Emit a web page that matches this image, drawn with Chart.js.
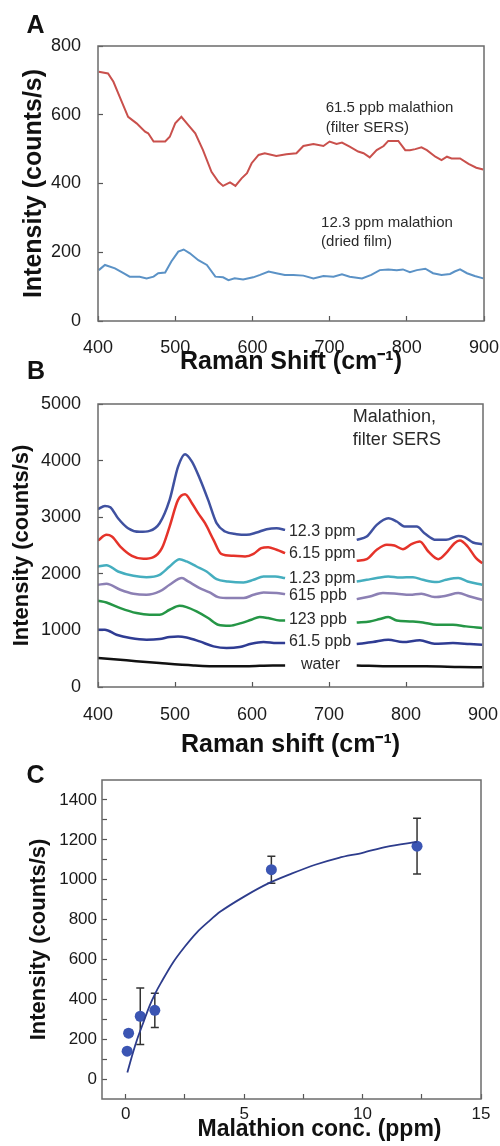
<!DOCTYPE html>
<html><head><meta charset="utf-8">
<script src="https://cdn.jsdelivr.net/npm/chart.js@4.4.1/dist/chart.umd.min.js"></script>
<style>
html,body{margin:0;padding:0;background:#fff;width:500px;height:1146px;overflow:hidden;position:relative}
canvas{position:absolute;left:0}
</style></head><body>
<canvas id="cA" width="500" height="376" style="top:0px"></canvas>
<canvas id="cB" width="500" height="400" style="top:360px"></canvas>
<canvas id="cC" width="500" height="391" style="top:755px"></canvas>
<script>
// ---------- Panel A data ----------
const aRedX = [401,413,420,428,439,450,461,465,472,487,493,500,508,517,526,536,547,556,562,571,578,586,593,599,608,616,631,644,657,666,679,692,700,709,716,726,737,744,752,761,770,776,789,798,804,811,819,826,837,845,852,858,869,880,890,899];
const aRedY = [725,720,696,653,594,575,551,546,522,522,536,575,594,570,546,497,434,405,393,403,393,415,430,459,483,488,480,485,488,509,515,509,522,515,519,507,493,488,476,497,509,524,524,497,497,500,505,497,478,468,478,473,473,457,446,441];
const aBlueX = [401,409,422,433,441,454,463,472,478,487,495,504,511,519,530,541,552,562,569,577,588,601,610,621,631,642,653,666,679,692,705,716,726,742,754,765,776,787,795,804,813,824,834,845,856,862,869,878,888,899];
const aBlueY = [148,163,153,139,129,129,124,129,139,141,173,202,208,197,177,163,129,127,119,124,121,127,134,144,139,134,134,132,124,131,129,136,129,124,134,148,150,148,150,142,148,152,139,134,137,144,150,139,131,124];
const aTicksX = [400,500,600,700,800,900];
const aTicksY = [0,200,400,600,800];

// ---------- Panel B data (null = gap behind the label) ----------
const b12X = [400,409,416,426,439,454,467,480,493,504,513,522,532,543,554,565,580,593,606,619,632,643,690,736,749,762,777,788,798,814,824,839,852,868,876,887,899];
const b12Y = [3141,3200,3176,2982,2806,2741,2759,2894,3306,3894,4112,3982,3688,3306,2894,2747,2700,2688,2729,2788,2806,2776,null,2600,2659,2865,2982,2924,2835,2835,2718,2600,2600,2670,2647,2553,2523];
const b6X = [400,411,418,429,444,459,472,483,493,504,513,522,530,539,550,560,576,591,602,612,621,632,643,690,736,749,762,775,785,796,807,818,829,842,852,863,870,880,891,899];
const b6Y = [2588,2688,2659,2482,2318,2265,2294,2453,2835,3306,3406,3247,3071,2894,2600,2353,2318,2306,2353,2453,2470,2424,2365,null,2229,2259,2424,2512,2500,2435,2524,2571,2394,2259,2365,2541,2588,2482,2276,2188];
const b1X = [400,411,426,446,463,480,493,506,515,528,541,554,569,589,602,615,630,643,690,736,749,762,777,792,809,822,840,852,868,880,899];
const b1Y = [2129,2153,2041,1965,1941,1982,2129,2259,2218,2129,2041,1906,1865,1847,1894,1953,1953,1924,null,1865,1894,1924,1953,1935,1941,1894,1853,1894,1924,1865,1806];
const b615X = [400,411,429,446,463,480,493,509,517,532,545,556,571,589,602,615,632,643,690,736,753,770,788,805,820,837,852,868,883,899];
const b615Y = [1806,1824,1718,1647,1629,1688,1806,1924,1865,1747,1671,1588,1571,1571,1629,1671,1659,1641,null,1553,1600,1659,1647,1629,1647,1588,1612,1659,1600,1541];
const b123X = [400,411,429,450,467,480,493,506,515,528,543,556,571,586,599,610,621,636,643,690,736,753,766,777,788,805,822,840,861,878,899];
const b123Y = [1524,1494,1394,1306,1276,1276,1365,1435,1412,1335,1218,1100,1082,1129,1188,1235,1218,1176,1176,null,1141,1159,1200,1235,1176,1159,1141,1100,1100,1071,1041];
const b61X = [400,409,424,442,463,480,493,504,515,532,550,567,584,599,615,632,643,690,736,757,777,796,818,837,861,883,899];
const b61Y = [1012,1012,924,865,835,847,882,894,876,806,718,688,706,765,794,776,776,null,759,794,835,794,824,765,776,759,747];
const bWaterX = [400,437,480,524,558,593,627,643,690,736,783,826,870,899];
const bWaterY = [512,471,424,382,365,365,382,382,null,382,365,365,353,347];
const bLabels = ['12.3 ppm','6.15 ppm','1.23 ppm','615 ppb','123 ppb','61.5 ppb','water'];
const bTicksY = [0,1000,2000,3000,4000,5000];

// ---------- Panel C data ----------
const cConc = [0.0615, 0.123, 0.615, 1.23, 6.15, 12.3];
const cIntensity = [140, 230, 315, 345, 1050, 1168];
const cError = [10, 15, 142, 86, 68, 140];
const cFitX = [0.07,0.3,0.5,0.75,1.0,1.25,1.5,2,2.5,3,3.5,4,5,6,7,8,9,10,11,12.3];
const cFitY = [33,130,205,285,365,430,485,585,665,735,790,840,915,980,1030,1075,1110,1135,1165,1190];
const cTicksX = [0,2.5,5,7.5,10,12.5,15];
const cTicksY = [0,100,200,300,400,500,600,700,800,900,1000,1100,1200,1300,1400];

// ---------- helpers ----------
const FONT = "'Liberation Sans', Arial, Helvetica, sans-serif";
const pts = (xs, ys) => xs.map((x, i) => ({x: x, y: ys[i]}));
Chart.defaults.font.family = FONT;
Chart.defaults.color = '#1a1a1a';

const frame = {
  id: 'frame',
  afterDatasetsDraw(chart) {
    const {ctx, chartArea: a} = chart;
    ctx.save();
    ctx.strokeStyle = '#6b6b6b';
    ctx.lineWidth = 1.5;
    ctx.strokeRect(a.left, a.top, a.right - a.left, a.bottom - a.top);
    ctx.restore();
  }
};
const notes = {
  id: 'notes',
  afterDraw(chart, args, opts) {
    const ctx = chart.ctx;
    (opts.items || []).forEach(it => {
      let x = it.x, y = it.y;
      if (it.data) { x = chart.scales.x.getPixelForValue(it.x); y = chart.scales.y.getPixelForValue(it.y); }
      ctx.save();
      ctx.font = it.font;
      ctx.fillStyle = it.color || '#2a2a2a';
      ctx.textAlign = it.align || 'left';
      ctx.textBaseline = 'middle';
      ctx.fillText(it.text, x, y);
      ctx.restore();
    });
  }
};
const errorBars = {
  id: 'errorBars',
  beforeDatasetsDraw(chart, args, opts) {
    if (!opts.values) return;
    const {ctx, scales: {x, y}} = chart;
    ctx.save();
    ctx.strokeStyle = '#333';
    ctx.lineWidth = 1.5;
    opts.xs.forEach((xv, i) => {
      const px = x.getPixelForValue(xv);
      const top = y.getPixelForValue(opts.values[i] + opts.errs[i]);
      const bot = y.getPixelForValue(opts.values[i] - opts.errs[i]);
      ctx.beginPath();
      ctx.moveTo(px, top); ctx.lineTo(px, bot);
      ctx.moveTo(px - 4, top); ctx.lineTo(px + 4, top);
      ctx.moveTo(px - 4, bot); ctx.lineTo(px + 4, bot);
      ctx.stroke();
    });
    ctx.restore();
  }
};

function axis(o) {
  return {
    type: 'linear', min: o.min, max: o.max, position: o.position,
    afterBuildTicks: s => { s.ticks = o.ticks.map(v => ({value: v})); },
    afterFit: s => {
      if (o.width != null) s.width = o.width;
      if (o.height != null) s.height = o.height;
      s.paddingLeft = 0; s.paddingRight = 0; s.paddingTop = 0; s.paddingBottom = 0;
    },
    grid: {drawOnChartArea: false, drawTicks: true, tickLength: -5, color: '#555', tickWidth: 1.2},
    border: {display: false},
    ticks: {
      autoSkip: false, maxRotation: 0, minRotation: 0,
      padding: o.pad, color: '#1a1a1a',
      font: {size: o.tickSize, family: FONT},
      callback: o.cb || (v => v)
    },
    title: o.title ? {
      display: true, text: o.title, color: '#111',
      font: {size: o.titleSize, weight: 'bold', family: FONT, lineHeight: 1},
      padding: o.titlePad
    } : {display: false}
  };
}
const common = {
  responsive: false, animation: false, devicePixelRatio: 1,
  plugins: {legend: {display: false}, tooltip: {enabled: false}},
  elements: {point: {radius: 0}}
};

// ---------- Chart A ----------
new Chart(document.getElementById('cA'), {
  type: 'scatter',
  data: {datasets: [
    {data: pts(aRedX, aRedY), showLine: true, borderColor: '#c9504c', borderWidth: 2, pointRadius: 0, tension: 0},
    {data: pts(aBlueX, aBlueY), showLine: true, borderColor: '#5b92c6', borderWidth: 2, pointRadius: 0, tension: 0}
  ]},
  options: Object.assign({}, common, {
    layout: {padding: {top: 46, right: 16, left: 0, bottom: 0}},
    scales: {
      x: axis({min: 400, max: 900, position: 'bottom', ticks: aTicksX, height: 55, pad: 21, tickSize: 18,
        title: 'Raman Shift (cm\u207B\u00B9)', titleSize: 25, titlePad: {top: 0, bottom: 1.5}}),
      y: axis({min: 0, max: 800, position: 'left', ticks: aTicksY, width: 98, pad: 22, tickSize: 18,
        title: 'Intensity (counts/s)', titleSize: 25, titlePad: {top: 21.5, bottom: 0}})
    },
    plugins: Object.assign({}, common.plugins, {notes: {items: [
      {text: 'A', x: 35.5, y: 26, font: 'bold 25px ' + FONT, align: 'center', color: '#111'},
      {text: '61.5 ppb malathion', x: 695, y: 620, data: true, font: '15px ' + FONT},
      {text: '(filter SERS)', x: 695, y: 561, data: true, font: '15px ' + FONT},
      {text: '12.3 ppm malathion', x: 689, y: 285, data: true, font: '15px ' + FONT},
      {text: '(dried film)', x: 689, y: 230, data: true, font: '15px ' + FONT}
    ]}})
  }),
  plugins: [frame, notes]
});

// ---------- Chart B ----------
const bSeries = [
  [b12X, b12Y, '#3f51a0'], [b6X, b6Y, '#e5332a'], [b1X, b1Y, '#45aebf'],
  [b615X, b615Y, '#8c80b4'], [b123X, b123Y, '#259646'], [b61X, b61Y, '#2f3c93'],
  [bWaterX, bWaterY, '#111111']
];
const bLabelY = [2744, 2350, 1920, 1608, 1189, 795, 394];
new Chart(document.getElementById('cB'), {
  type: 'scatter',
  data: {datasets: bSeries.map((s, i) => ({
    label: bLabels[i], data: pts(s[0], s[1]), showLine: true, borderColor: s[2], borderWidth: 2.5,
    pointRadius: 0, cubicInterpolationMode: 'monotone', spanGaps: false
  }))},
  options: Object.assign({}, common, {
    layout: {padding: {top: 44, right: 17, left: 0, bottom: 0}},
    scales: {
      x: axis({min: 400, max: 900, position: 'bottom', ticks: aTicksX, height: 73, pad: 22, tickSize: 18,
        title: 'Raman shift (cm\u207B\u00B9)', titleSize: 25, titlePad: {top: 0, bottom: 2.5}}),
      y: axis({min: 0, max: 5000, position: 'left', ticks: bTicksY, width: 98, pad: 22, tickSize: 18,
        title: 'Intensity (counts/s)', titleSize: 22, titlePad: {top: 11, bottom: 0}})
    },
    plugins: Object.assign({}, common.plugins, {notes: {items: [
      {text: 'B', x: 36, y: 12.5, font: 'bold 25px ' + FONT, align: 'center', color: '#111'},
      {text: 'Malathion,', x: 731, y: 4770, data: true, font: '18px ' + FONT},
      {text: 'filter SERS', x: 731, y: 4364, data: true, font: '18px ' + FONT}
    ].concat(bLabels.map((t, i) => ({
      text: t, x: i === 6 ? 689 : 648, y: bLabelY[i], data: true, font: '16px ' + FONT,
      align: i === 6 ? 'center' : 'left'
    })))}})
  }),
  plugins: [frame, notes]
});

// ---------- Chart C ----------
new Chart(document.getElementById('cC'), {
  type: 'scatter',
  data: {datasets: [
    {data: pts(cFitX, cFitY), showLine: true, borderColor: '#2d3c8c', borderWidth: 1.8, pointRadius: 0, tension: 0.3},
    {data: pts(cConc, cIntensity), showLine: false, pointRadius: 5.5, pointBackgroundColor: '#3b55b3', pointBorderColor: '#3b55b3', pointBorderWidth: 0}
  ]},
  options: Object.assign({}, common, {
    layout: {padding: {top: 25, right: 19, left: 0, bottom: 0}},
    scales: {
      x: axis({min: -1, max: 15, position: 'bottom', ticks: cTicksX, height: 47, pad: 10, tickSize: 17,
        cb: v => (v % 5 === 0 ? v : '')}),
      y: axis({min: -100, max: 1500, position: 'left', ticks: cTicksY, width: 102, pad: 10, tickSize: 17,
        cb: v => (v % 200 === 0 ? v : ''),
        title: 'Intensity (counts/s)', titleSize: 22, titlePad: {top: 28, bottom: 0}})
    },
    plugins: Object.assign({}, common.plugins, {
      errorBars: {xs: cConc, values: cIntensity, errs: cError},
      notes: {items: [
        {text: 'C', x: 35.5, y: 21, font: 'bold 25px ' + FONT, align: 'center', color: '#111'},
        {text: 'Malathion conc. (ppm)', x: 319.5, y: 375, font: 'bold 23px ' + FONT, align: 'center', color: '#111'}
      ]}
    })
  }),
  plugins: [frame, notes, errorBars]
});
</script>
</body></html>
